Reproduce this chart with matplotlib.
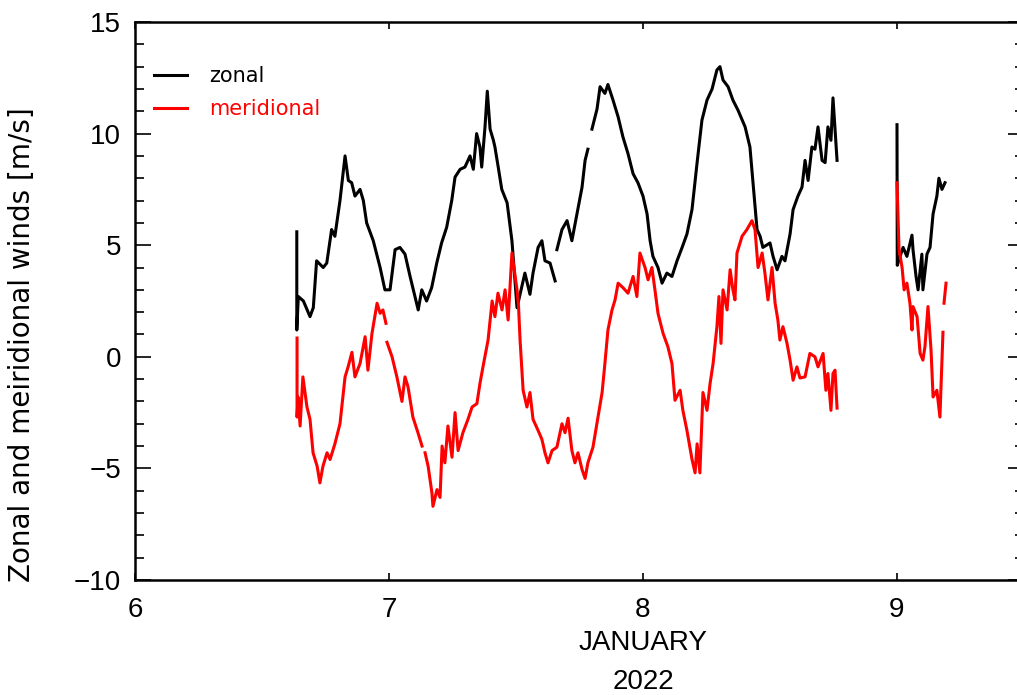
import numpy as np
import matplotlib
matplotlib.use("Agg")
import matplotlib.pyplot as plt
from matplotlib.ticker import MultipleLocator

nan = np.nan

# zonal wind (black), day of January 2022 / m/s
zonal_day = [6.637, 6.637, 6.643, 6.663, 6.689, 6.702, 6.715, 6.741, 6.755, 6.774, 6.787,
             6.807, 6.827, 6.840, 6.853, 6.866, 6.886, 6.899, 6.912, 6.938, 6.965, 6.984,
             7.004, 7.024, 7.043, 7.063, 7.083, 7.102, 7.115, 7.129, 7.148, 7.168, 7.188,
             7.207, 7.227, 7.247, 7.260, 7.280, 7.299, 7.319, 7.332, 7.345, 7.358, 7.365,
             7.378, 7.387, 7.398, 7.411, 7.417, 7.430, 7.444, 7.465, 7.484, 7.504, 7.516,
             7.535, 7.555, 7.567, 7.587, 7.602, 7.614, 7.634, 7.654, 7.657,
             7.661, 7.681, 7.701, 7.720, 7.740, 7.760, 7.772, 7.783, 7.791,
             7.799, 7.819, 7.831, 7.850, 7.862, 7.882, 7.902, 7.921, 7.941, 7.961, 7.980,
             8.000, 8.016, 8.028, 8.039, 8.059, 8.075, 8.094, 8.114, 8.134, 8.154, 8.173,
             8.193, 8.213, 8.232, 8.252, 8.272, 8.291, 8.303, 8.315, 8.335, 8.354, 8.374,
             8.402, 8.421, 8.433, 8.449, 8.461, 8.472, 8.500, 8.512, 8.528, 8.547, 8.559,
             8.579, 8.591, 8.610, 8.626, 8.638, 8.650, 8.665, 8.677, 8.689, 8.705, 8.717,
             8.728, 8.740, 8.748, 8.764, 8.880,
             9.000, 9.001, 9.012, 9.024, 9.039, 9.059, 9.063, 9.075, 9.083, 9.098, 9.102,
             9.118, 9.130, 9.142, 9.157, 9.165, 9.177, 9.189]
zonal_ms = [5.6, 1.2, 2.7, 2.5, 1.8, 2.2, 4.3, 4.0, 4.2, 5.7, 5.4,
            7.0, 9.0, 7.9, 7.8, 7.2, 7.5, 7.0, 6.0, 5.2, 4.0, 3.0,
            3.0, 4.8, 4.9, 4.6, 3.6, 2.7, 2.1, 3.0, 2.5, 3.1, 4.2,
            5.1, 5.8, 7.0, 8.05, 8.4, 8.5, 9.0, 8.4, 10.0, 9.4, 8.5,
            10.3, 11.9, 10.2, 9.7, 9.4, 8.5, 7.5, 6.9, 5.2, 2.2, 2.8,
            3.75, 2.8, 3.75, 4.9, 5.2, 4.3, 4.2, 3.4, nan,
            4.8, 5.7, 6.1, 5.2, 6.4, 7.6, 8.8, 9.3, nan,
            10.2, 11.1, 12.1, 11.8, 12.2, 11.5, 10.75, 9.85, 9.1, 8.2, 7.8,
            7.2, 6.4, 5.2, 4.5, 4.0, 3.3, 3.75, 3.6, 4.3, 4.9, 5.5,
            6.6, 8.7, 10.6, 11.5, 12.0, 12.85, 13.0, 12.4, 12.1, 11.5, 11.05,
            10.3, 9.4, 7.8, 5.7, 5.4, 4.9, 5.1, 4.5, 3.9, 4.5, 4.3,
            5.5, 6.6, 7.2, 7.6, 8.8, 7.9, 9.4, 9.3, 10.3, 8.8, 8.7,
            10.3, 9.7, 11.6, 8.8, nan,
            10.4, 4.1, 4.5, 4.9, 4.5, 5.45, 4.8, 3.6, 3.0, 4.6, 3.0,
            4.6, 4.9, 6.4, 7.2, 8.0, 7.5, 7.8]

# meridional wind (red)
merid_day = [6.638, 6.638, 6.642, 6.650, 6.661, 6.677, 6.689, 6.701, 6.717, 6.728, 6.740,
             6.756, 6.768, 6.787, 6.807, 6.827, 6.839, 6.854, 6.866, 6.886, 6.906, 6.917,
             6.933, 6.953, 6.965, 6.976, 6.988, 6.990,
             6.992, 7.012, 7.031, 7.051, 7.063, 7.075, 7.094, 7.114, 7.130, 7.136,
             7.142, 7.154, 7.169, 7.173, 7.189, 7.201, 7.209, 7.220, 7.232, 7.248, 7.260,
             7.272, 7.291, 7.311, 7.327, 7.346, 7.358, 7.370, 7.390, 7.406, 7.417, 7.429,
             7.445, 7.457, 7.469, 7.484, 7.504, 7.510, 7.516, 7.528, 7.543, 7.555, 7.567,
             7.587, 7.602, 7.614, 7.626, 7.642, 7.661, 7.681, 7.693, 7.705, 7.720, 7.732,
             7.744, 7.760, 7.772, 7.783, 7.803, 7.823, 7.839, 7.850, 7.862, 7.878, 7.890,
             7.902, 7.921, 7.941, 7.961, 7.976, 7.988, 8.008, 8.020, 8.035, 8.047, 8.059,
             8.079, 8.098, 8.114, 8.126, 8.146, 8.157, 8.173, 8.193, 8.205, 8.213, 8.224,
             8.236, 8.252, 8.264, 8.276, 8.291, 8.299, 8.307, 8.315, 8.331, 8.343, 8.354,
             8.362, 8.370, 8.390, 8.409, 8.429, 8.441, 8.453, 8.469, 8.480, 8.492, 8.508,
             8.520, 8.531, 8.539, 8.551, 8.567, 8.579, 8.591, 8.606, 8.618, 8.638, 8.657,
             8.677, 8.689, 8.709, 8.720, 8.728, 8.740, 8.748, 8.756, 8.764, 8.880,
             9.000, 9.008, 9.020, 9.028, 9.039, 9.051, 9.059, 9.063, 9.079, 9.091, 9.102,
             9.110, 9.122, 9.134, 9.142, 9.157, 9.169, 9.181, 9.183,
             9.185, 9.193]
merid_ms = [0.84, -2.7, -1.8, -3.1, -0.9, -2.25, -2.8, -4.3, -4.9, -5.65, -4.9,
            -4.3, -4.6, -3.9, -3.0, -0.9, -0.45, 0.2, -0.9, -0.3, 0.9, -0.6,
            1.05, 2.4, 1.95, 2.1, 1.5, nan,
            0.65, 0.0, -0.9, -2.0, -0.9, -1.35, -2.7, -3.4, -4.0, nan,
            -4.3, -4.9, -6.1, -6.7, -5.95, -6.3, -4.0, -4.75, -3.1, -4.5, -2.5,
            -4.2, -3.4, -2.8, -2.25, -2.1, -1.2, -0.45, 0.75, 2.5, 1.8, 2.85,
            2.1, 3.0, 1.65, 4.65, 3.0, 2.25, 0.75, -1.5, -2.25, -1.6, -2.8,
            -3.3, -3.7, -4.3, -4.75, -4.2, -4.05, -3.0, -3.4, -2.75, -4.2, -4.75,
            -4.3, -5.05, -5.45, -4.75, -4.05, -2.7, -1.6, -0.3, 1.2, 2.1, 2.55,
            3.3, 3.1, 2.85, 3.6, 2.7, 4.65, 4.0, 3.45, 4.0, 3.0, 1.95,
            1.05, 0.45, -0.3, -1.95, -1.5, -2.4, -3.3, -4.6, -5.2, -3.9, -5.2,
            -1.6, -2.4, -1.2, -0.3, 1.35, 2.7, 0.6, 3.0, 2.1, 3.9, 3.0,
            2.55, 4.65, 5.4, 5.7, 6.1, 5.7, 4.0, 4.65, 3.75, 2.55, 4.0,
            2.4, 1.65, 0.75, 1.35, 0.6, -0.15, -1.05, -0.45, -0.95, -0.9, 0.15,
            0.0, -0.45, 0.15, -1.5, -0.75, -2.4, -0.75, -0.6, -2.3, nan,
            7.8, 4.8, 4.0, 3.0, 3.3, 2.4, 1.2, 2.25, 1.8, 0.15, -0.15,
            0.45, 2.25, 0.3, -1.8, -1.5, -2.7, 1.1, nan,
            2.4, 3.3]

fig = plt.figure(figsize=(10.17, 6.95), dpi=100)
ax = fig.add_axes([135 / 1017, 115 / 695, 889 / 1017, 558 / 695])

ax.plot(zonal_day, zonal_ms, color="black", lw=2.2, label="zonal")
ax.plot(merid_day, merid_ms, color="red", lw=2.2, label="meridional")

ax.set_xlim(6, 9.5)
ax.set_ylim(-10, 15)
ax.set_xticks([6, 7, 8, 9])
ax.set_yticks([-10, -5, 0, 5, 10, 15])
ax.yaxis.set_minor_locator(MultipleLocator(1))

for s in ax.spines.values():
    s.set_linewidth(1.8)
ax.tick_params(axis="both", which="both", direction="in", top=True, right=True,
               labelsize=20, width=1.2)
ax.tick_params(axis="x", which="major", length=5, pad=12)
ax.tick_params(axis="y", which="major", length=11.5, pad=10)
ax.tick_params(axis="y", which="minor", length=6.5)
for lab in ax.get_xticklabels() + ax.get_yticklabels():
    lab.set_family("Liberation Sans")

ax.set_ylabel("Zonal and meiridional winds [m/s]", fontsize=20, va="center")
ax.yaxis.set_label_coords(-0.127, 0.421, transform=ax.transAxes)
ax.set_xlabel("JANUARY\n2022", fontsize=20, family="Liberation Sans",
              linespacing=1.65, va="top")
ax.xaxis.set_label_coords(2 / 3.5, -0.09, transform=ax.transAxes)

ax.legend(loc="upper left", bbox_to_anchor=(0.0, 0.955), frameon=False, fontsize=15,
          handlelength=1.6, handletextpad=1.05, labelspacing=0.64,
          labelcolor="linecolor")

fig.savefig("out.png", dpi=100)
